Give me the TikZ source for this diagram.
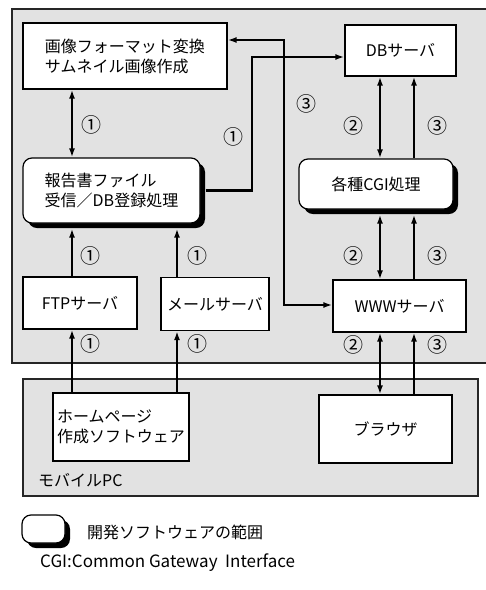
\documentclass[tikz,border=0pt]{standalone}
\usepackage{fontspec}
\setmainfont{Noto Sans CJK JP}
\usetikzlibrary{arrows.meta,shadows}
\definecolor{bg}{RGB}{226,226,226}
\begin{document}
\begin{tikzpicture}[x=1pt,y=-1pt,
 box/.style={draw, line width=1.2pt, fill=white, inner sep=0pt, font=\fontsize{16}{20}\selectfont},
 devbox/.style={box, rounded corners=9pt, drop shadow={shadow xshift=5pt, shadow yshift=-5pt, fill=black, opacity=1}},
 frame/.style={draw=black!85, line width=1.1pt, fill=bg},
 conn/.style={line width=2.4pt},
 arr/.style={-{Latex[length=9pt,width=6pt]}},
 dbl/.style={{Latex[length=9pt,width=6pt]}-{Latex[length=9pt,width=6pt]}},
 lab/.style={font=\fontsize{20}{20}\selectfont, inner sep=0pt},
 txt/.style={anchor=west, inner sep=0pt, font=\fontsize{16}{20}\selectfont}]
\useasboundingbox[fill=white] (0,0) rectangle (486,590);
% frames
\draw[frame] (12,9) rectangle (492,363);
\draw[frame] (23,379) rectangle (478,496);
% nodes
\node[box, minimum width=204pt, minimum height=66pt, align=left] (img) at (125,56) {画像フォーマット変換\\サムネイル画像作成};
\node[box, minimum width=111pt, minimum height=51pt] (db) at (400.5,50.5) {DBサーバ};
\node[devbox, minimum width=177pt, minimum height=65pt, align=left] (rep) at (111.5,190.5) {報告書ファイル\\受信／DB登録処理};
\node[devbox, minimum width=154pt, minimum height=50pt] (cgi) at (376,184) {各種CGI処理};
\node[box, minimum width=114pt, minimum height=52pt] (ftp) at (80,303) {FTPサーバ};
\node[box, minimum width=108pt, minimum height=53pt] (mail) at (215,304) {メールサーバ};
\node[box, minimum width=133pt, minimum height=52pt] (www) at (399.5,306) {WWWサーバ};
\node[box, minimum width=136pt, minimum height=68pt, align=left] (hp) at (121,427) {ホームページ\\作成ソフトウェア};
\node[box, minimum width=133pt, minimum height=68pt] (br) at (385.5,429) {ブラウザ};
\node[txt] (mpc) at (38,480) {モバイルPC};
% helper coordinates
\coordinate (repb) at ([yshift=-5pt]rep.south);
\coordinate (repr) at ([xshift=5pt]rep.east);
\coordinate (cgib) at ([yshift=-5pt]cgi.south);
\coordinate (xa) at (72,0);
\coordinate (xb) at (177,0);
\coordinate (xc) at (380,0);
\coordinate (xd) at (414,0);
\coordinate (xe) at (252,0);
\coordinate (ye) at (0,57);
\coordinate (xf) at (284,0);
\coordinate (yf) at (0,40);
\coordinate (yg) at (0,305);
% connectors
\draw[conn,dbl] (img.south -| xa) -- (rep.north -| xa);
\draw[conn,arr] (repr) -| (xe |- ye) -- (db.west |- ye);
\draw[conn,dbl] (img.east |- yf) -| (xf |- yg) -- (www.west |- yg);
\draw[conn,dbl] (db.south -| xc) -- (cgi.north -| xc);
\draw[conn,arr] (cgi.north -| xd) -- (db.south -| xd);
\draw[conn,dbl] (cgib -| xc) -- (www.north -| xc);
\draw[conn,arr] (www.north -| xd) -- (cgib -| xd);
\draw[conn,dbl] (www.south -| xc) -- (br.north -| xc);
\draw[conn,arr] (br.north -| xd) -- (www.south -| xd);
\draw[conn,arr] (ftp.north -| xa) -- (repb -| xa);
\draw[conn,arr] (mail.north -| xb) -- (repb -| xb);
\draw[conn,arr] (hp.north -| xa) -- (ftp.south -| xa);
\draw[conn,arr] (hp.north -| xb) -- (mail.south -| xb);
% labels
\node[lab] (l1) at (91,125) {①};
\node[lab] (l2) at (233,137) {①};
\node[lab] (l3) at (306,104) {③};
\node[lab] (l4) at (353,126) {②};
\node[lab] (l5) at (437,126) {③};
\node[lab] (l6) at (353,256) {②};
\node[lab] (l7) at (437,256) {③};
\node[lab] (l8) at (353,345) {②};
\node[lab] (l9) at (437,345) {③};
\node[lab] (l10) at (90,256) {①};
\node[lab] (l11) at (197,256) {①};
\node[lab] (l12) at (90,344) {①};
\node[lab] (l13) at (197,344) {①};
% legend
\node[devbox, minimum width=43pt, minimum height=28pt] (leg) at (43.5,529) {};
\node[txt] (legt) at (87,532) {開発ソフトウェアの範囲};
\node[txt, font=\fontsize{17}{20}\selectfont] (cgit) at (40,563) {CGI:Common Gateway\ \ Interface};
\end{tikzpicture}
\end{document}
